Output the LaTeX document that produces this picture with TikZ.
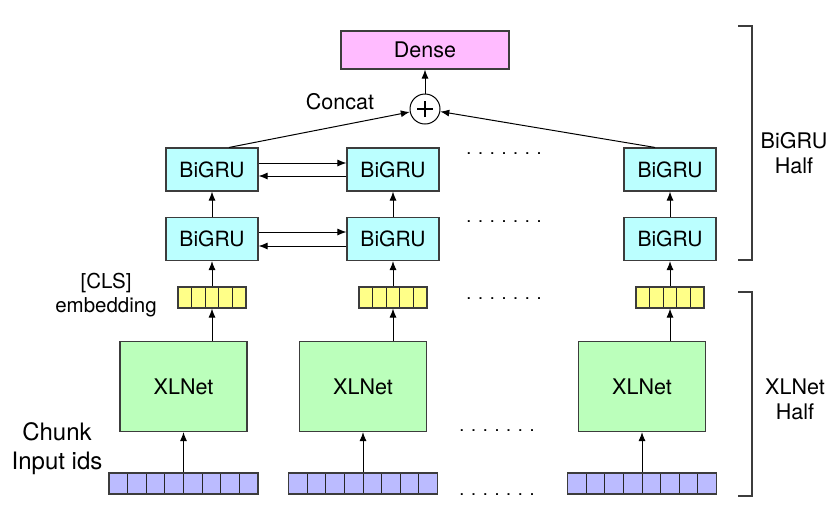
\documentclass[tikz,border=0pt]{standalone}
\usepackage{fontspec}
\setmainfont{TeX Gyre Heros}
\usepackage{tikz}
\usetikzlibrary{shapes.geometric, arrows.meta, calc}
\usetikzlibrary{positioning}
\definecolor{lineGray}{RGB}{60,60,60}
\definecolor{denseFill}{RGB}{255,187,255}
\definecolor{gruFill}{RGB}{187,255,255}
\definecolor{netFill}{RGB}{187,255,187}
\definecolor{clsFill}{RGB}{255,255,136}
\definecolor{idsFill}{RGB}{187,187,255}
\tikzstyle{box} = [rectangle, draw=lineGray, line width=1.1pt, text centered, inner sep=0pt, font=\fontsize{21.5}{24}\selectfont]
\tikzstyle{denseNode} = [box, fill=denseFill, minimum width=168pt, minimum height=38pt]
\tikzstyle{gruNode} = [box, fill=gruFill, minimum width=92pt, minimum height=43pt, font=\fontsize{21}{24}\selectfont]
\tikzstyle{netNode} = [box, fill=netFill, minimum width=127pt, minimum height=90pt]
\tikzstyle{clsNode} = [box, fill=clsFill, minimum width=68pt, minimum height=21pt,
  path picture={\foreach \k in {1,...,4}
    \draw[line width=1pt, draw=black!85] ($(path picture bounding box.south west)!\k/5!(path picture bounding box.south east)$) -- ($(path picture bounding box.north west)!\k/5!(path picture bounding box.north east)$);}]
\tikzstyle{idsNode} = [box, fill=idsFill, minimum width=149pt, minimum height=21pt,
  path picture={\foreach \k in {1,...,7}
    \draw[line width=1pt, draw=black!85] ($(path picture bounding box.south west)!\k/8!(path picture bounding box.south east)$) -- ($(path picture bounding box.north west)!\k/8!(path picture bounding box.north east)$);}]
\tikzstyle{sumNode} = [circle, draw=black, line width=1pt, fill=white, minimum size=30pt, inner sep=0pt,
  path picture={\draw[line width=1.3pt] ($(path picture bounding box.center)+(-8pt,0)$) -- ($(path picture bounding box.center)+(8pt,0)$);
    \draw[line width=1.3pt] ($(path picture bounding box.center)+(0,-8pt)$) -- ($(path picture bounding box.center)+(0,8pt)$);}]
\tikzstyle{arrow} = [line width=1pt, draw=black, -{Latex[length=9pt,width=7pt]}]
\tikzstyle{brace} = [line width=1.3pt, draw=lineGray]
\tikzstyle{textLabel} = [align=center, font=\fontsize{21.5}{25}\selectfont]
\tikzstyle{dotRow} = [anchor=base, inner sep=0pt, font=\fontsize{18}{20}\selectfont]

\begin{document}
\begin{tikzpicture}[x=1pt, y=-1pt]
  \fill[white] (0,0) rectangle (832,507);
  \useasboundingbox (0,0) rectangle (832,507);
  % top
  \node (dense) [denseNode] at (425,50) {Dense};
  \node (sum) [sumNode] at (425,109) {};
  \node (concat) [textLabel] at (340,102) {Concat};
  % first chunk
  \node (t1) [gruNode] at (212,169.5) {BiGRU};
  \node (b1) [gruNode] at (212,239) {BiGRU};
  \node (c1) [clsNode] at (212,297.5) {};
  \node (x1) [netNode] at (183.5,386.5) {XLNet};
  \node (i1) [idsNode] at (183.5,483.5) {};
  % second chunk
  \node (t2) [gruNode] at (393,169.5) {BiGRU};
  \node (b2) [gruNode] at (393,239) {BiGRU};
  \node (c2) [clsNode] at (393,297.5) {};
  \node (x2) [netNode] at (363,386.5) {XLNet};
  \node (i2) [idsNode] at (363,483.5) {};
  % last chunk
  \node (t3) [gruNode] at (670,169.5) {BiGRU};
  \node (b3) [gruNode] at (670,239) {BiGRU};
  \node (c3) [clsNode] at (670,297.5) {};
  \node (x3) [netNode] at (642,386.5) {XLNet};
  \node (i3) [idsNode] at (642,483.5) {};
  % labels
  \node (clsLabel) [textLabel, font=\fontsize{20.5}{24}\selectfont] at (106,295) {[CLS]\\embedding};
  \node (idsLabel) [textLabel, font=\fontsize{24}{29}\selectfont] at (57,449) {Chunk\\Input ids};
  \node (gruHalf) [textLabel] at (794,153) {BiGRU\\Half};
  \node (netHalf) [textLabel] at (795,399.5) {XLNet\\Half};
  % dots
  \node (d1) [dotRow] at (504,154) {. . . . . . .};
  \node (d2) [dotRow] at (504,222) {. . . . . . .};
  \node (d3) [dotRow] at (504,299) {. . . . . . .};
  \node (d4) [dotRow] at (497,431) {. . . . . . .};
  \node (d5) [dotRow] at (497,495) {. . . . . . .};
  % arrows
  \draw (sum) [arrow] -- (dense);
  \draw ([xshift=17pt]t1.north) [arrow] -- (sum);
  \draw ([xshift=-15pt]t3.north) [arrow] -- (sum);
  \draw ([yshift=6.5pt]t1.east) [arrow] -- ([yshift=6.5pt]t2.west);
  \draw ([yshift=-6.5pt]t2.west) [arrow] -- ([yshift=-6.5pt]t1.east);
  \draw ([yshift=7pt]b1.east) [arrow] -- ([yshift=7pt]b2.west);
  \draw ([yshift=-7pt]b2.west) [arrow] -- ([yshift=-7pt]b1.east);
  \foreach \n in {1,2,3} {
    \draw (b\n) [arrow] -- (t\n);
    \draw (c\n) [arrow] -- (b\n);
    \draw (x\n.north -| c\n) [arrow] -- (c\n);
    \draw (i\n) [arrow] -- (x\n);
  }
  % brackets
  \draw [brace] (738,26) -- (752,26) -- (752,260) -- (738,260);
  \draw [brace] (738,292) -- (752,292) -- (752,496) -- (738,496);
\end{tikzpicture}
\end{document}
